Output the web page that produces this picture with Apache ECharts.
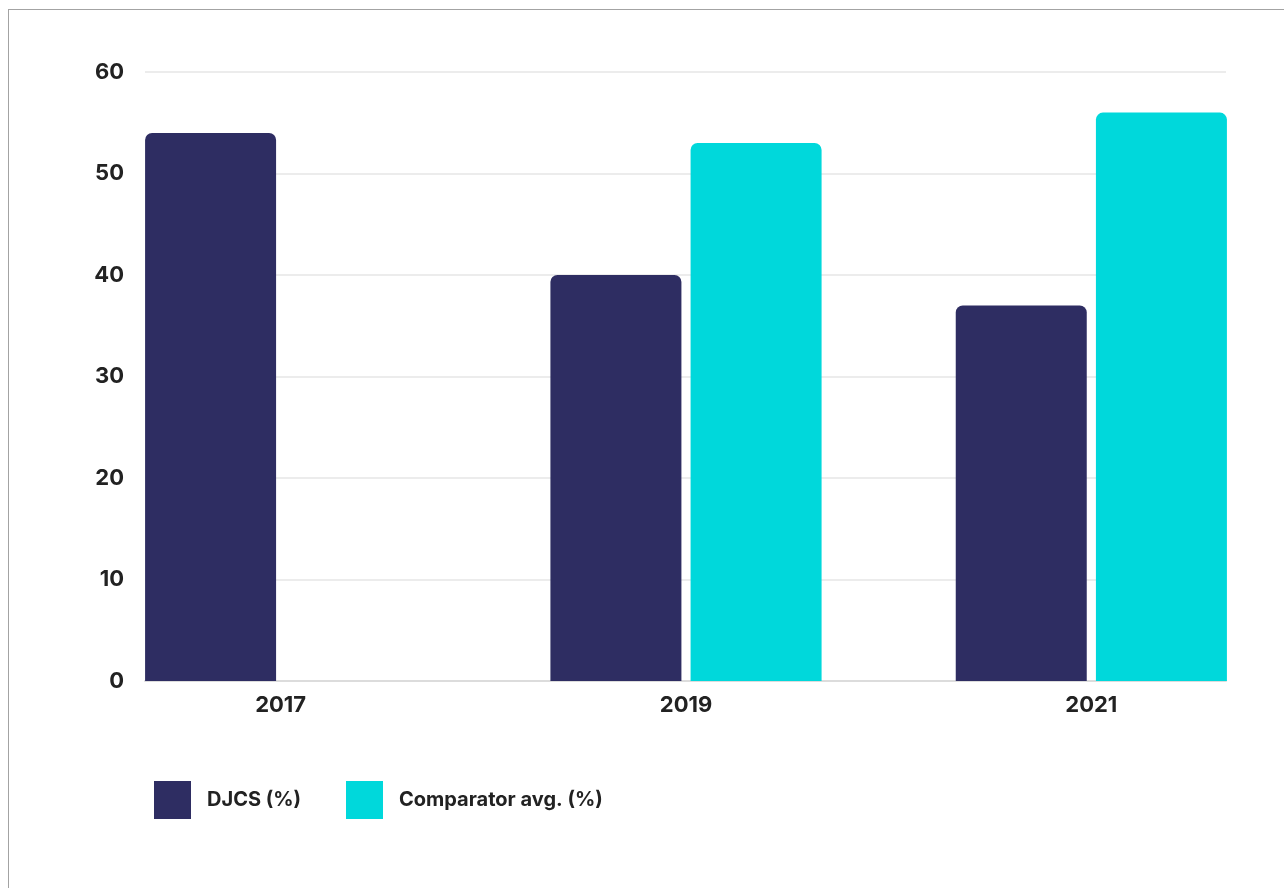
<!DOCTYPE html>
<html lang="en">

<head>
    <meta charset="UTF-8">
    <title>DJCS vs comparator</title>
    <script src="https://cdn.jsdelivr.net/npm/echarts@6/dist/echarts.min.js"></script>
    <style>
        html, body { margin: 0; background: #fff; overflow: hidden; width: 1284px; height: 888px; }
        /* canvas a bit wider than the page so the bar grid is not clamped */
        #main { position: absolute; left: 0; top: 0; width: 1320px; height: 888px; }
        .frame { position: absolute; left: 8px; top: 9px; width: 1290px; height: 900px;
                 border-left: 1px solid #a3a3a3; border-top: 1px solid #a3a3a3; pointer-events: none; }
    </style>
</head>

<body>
    <div id="main"></div>
    <div class="frame"></div>
    <script>
        var years = ['2017', '2019', '2021'];
        var djcs = [54, 40, 37];
        var comparator = [null, 53, 56];
        var yTicks = [0, 10, 20, 30, 40, 50, 60];

        var font = 'Inter';
        var textColor = '#222';

        var myChart = echarts.init(document.getElementById('main'));

        var legendText = { fontFamily: font, fontWeight: 700, fontSize: 20, color: textColor, padding: [10, 0, 0, 11] };

        var option = {
            animation: false,
            grid: [
                // grid for the value axis and gridlines
                { left: 145, width: 1081, top: 72, height: 609 },
                // wider grid so groups sit flush with the plot edges
                { left: 78, width: 1216, top: 72, height: 609 }
            ],
            legend: [{
                left: 154,
                top: 781,
                padding: 0,
                icon: 'rect',
                itemWidth: 37,
                itemHeight: 38,
                data: ['DJCS (%)'],
                textStyle: legendText
            }, {
                left: 346,
                top: 781,
                padding: 0,
                icon: 'rect',
                itemWidth: 37,
                itemHeight: 38,
                data: ['Comparator avg. (%)'],
                textStyle: legendText
            }],
            xAxis: [{
                gridIndex: 0,
                type: 'category',
                data: years,
                axisLine: { lineStyle: { color: '#dcdcdc', width: 2 } },
                axisTick: { show: false },
                axisLabel: { show: false }
            }, {
                gridIndex: 1,
                type: 'category',
                data: years,
                axisLine: { show: false },
                axisTick: { show: false },
                axisLabel: {
                    margin: 13,
                    fontFamily: font,
                    fontWeight: 700,
                    fontSize: 22,
                    color: textColor
                }
            }],
            yAxis: [{
                gridIndex: 0,
                type: 'value',
                min: yTicks[0],
                max: yTicks[yTicks.length - 1],
                interval: 10,
                axisLine: { show: false },
                axisTick: { show: false },
                splitLine: { lineStyle: { color: '#ececec', width: 2 } },
                axisLabel: {
                    margin: 21,
                    fontFamily: font,
                    fontWeight: 700,
                    fontSize: 22,
                    color: textColor
                }
            }, {
                gridIndex: 1,
                type: 'value',
                min: yTicks[0],
                max: yTicks[yTicks.length - 1],
                show: false,
                splitLine: { show: false }
            }],
            series: [{
                name: 'DJCS (%)',
                type: 'bar',
                xAxisIndex: 1,
                yAxisIndex: 1,
                data: djcs,
                barWidth: 131,
                barGap: '7%',
                itemStyle: { color: '#2e2d62', borderRadius: [7, 7, 0, 0] }
            }, {
                name: 'Comparator avg. (%)',
                type: 'bar',
                xAxisIndex: 1,
                yAxisIndex: 1,
                data: comparator,
                barWidth: 131,
                barGap: '7%',
                itemStyle: { color: '#00d8db', borderRadius: [7, 7, 0, 0] }
            }]
        };

        myChart.setOption(option);
    </script>
</body>

</html>
